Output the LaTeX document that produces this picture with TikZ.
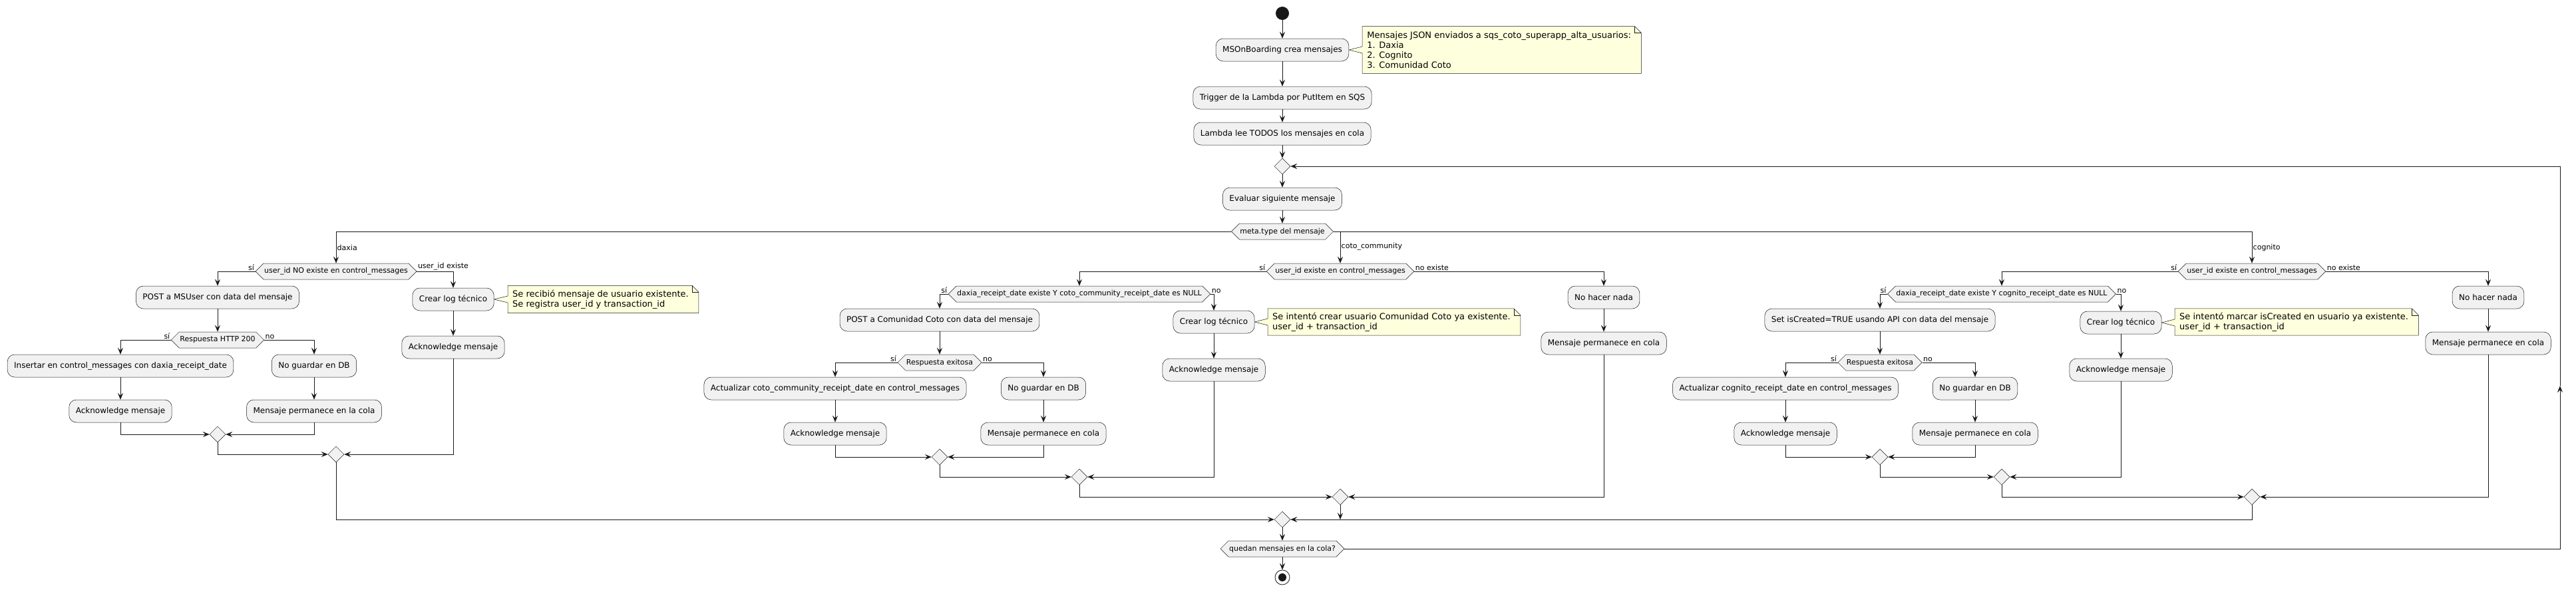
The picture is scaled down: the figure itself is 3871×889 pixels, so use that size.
\documentclass[tikz,border=0pt]{standalone}
\usepackage{fontspec}
\setmainfont{DejaVu Sans}
\usetikzlibrary{arrows.meta, shapes.geometric, shapes.symbols, calc, backgrounds}

\definecolor{actfill}{HTML}{F1F1F1}
\definecolor{lineclr}{HTML}{181818}
\definecolor{notefill}{HTML}{FEFFDD}

\tikzset{
	act/.style={rectangle, rounded corners=11pt, draw=lineclr, line width=0.5pt, fill=actfill,
		minimum height=34pt, inner xsep=10pt, font=\fontsize{12}{14}\selectfont},
	hexa/.style={signal, signal to=west and east, signal pointer angle=90, draw=lineclr,
		line width=0.5pt, fill=actfill, minimum height=24pt, inner xsep=1pt, inner ysep=2pt,
		font=\fontsize{11}{13}\selectfont},
	merge/.style={diamond, draw=lineclr, line width=0.5pt, fill=actfill, minimum width=24pt,
		minimum height=24pt, inner sep=0pt},
	notebox/.style={anchor=west, align=left, inner xsep=7pt, inner ysep=0pt,
		font=\fontsize{13}{15}\selectfont},
	noteline/.style={-, draw=lineclr, line width=0.5pt, fill=notefill},
	lbl/.style={font=\fontsize{11}{13}\selectfont, inner sep=1.5pt},
}

% outline of a note #1 with its tail towards #2
\newcommand{\drawnote}[2]{%
	\begin{pgfonlayer}{background}
		\draw[noteline] (#1.north west) -- ($(#1.north east)+(-2,0)$) -- ($(#1.north east)+(8,10)$)
			-- ($(#1.south east)+(8,0)$) -- (#1.south west) -- ($(#1.west |- #2)+(0,5)$) -- (#2)
			-- ($(#1.west |- #2)+(0,-5)$) -- cycle;
		\draw[noteline, fill=none] ($(#1.north east)+(-2,0)$) |- ($(#1.north east)+(8,10)$);
	\end{pgfonlayer}}

\begin{document}
\begin{tikzpicture}[x=1pt, y=-1pt, ->, >={Stealth[length=10pt, width=8pt, inset=4pt]},
	line width=0.9pt, draw=lineclr]
	\useasboundingbox (0,0) rectangle (3871,889);

	\node[circle, fill=lineclr, minimum size=20pt, inner sep=0pt](start) at (1927,20) {};
	\node[act](msob) at (1927,75) {MSOnBoarding crea mensajes};
	\node[notebox, minimum height=70pt](note1) at (2047,75) {Mensajes JSON enviados a sqs\_coto\_superapp\_alta\_usuarios:\\1. Daxia\\2. Cognito\\3. Comunidad Coto};
	\drawnote{note1}{msob.east}
	\node[act](trigger) at (1927,147) {Trigger de la Lambda por PutItem en SQS};
	\node[act](lambda) at (1927,201) {Lambda lee TODOS los mensajes en cola};
	\node[merge](loop) at (1927,250) {};
	\node[act](evaluar) at (1927,299) {Evaluar siguiente mensaje};
	\node[hexa](metatype) at (1927,348) {meta.type del mensaje};

	\path (start) edge (msob);
	\path (msob) edge (trigger);
	\path (trigger) edge (lambda);
	\path (lambda) edge (loop.north);
	\path (loop.south) edge (evaluar);
	\path (evaluar.south) edge (metatype.north);

	% daxia
	\node[hexa](dxcheck) at (505,408) {user\_id NO existe en control\_messages};
	\node[act](dxpost) at (327,447) {POST a MSUser con data del mensaje};
	\node[act](dxlog) at (681,450) {Crear log técnico};
	\node[notebox, minimum height=41pt](dxnote) at (763,450) {Se recibió mensaje de usuario existente.\\Se registra user\_id y transaction\_id};
	\drawnote{dxnote}{dxlog.east}
	\node[act](dxack2) at (681,522) {Acknowledge mensaje};
	\node[hexa](dxhttp) at (327,511) {Respuesta HTTP 200};
	\node[act](dxins) at (181,550) {Insertar en control\_messages con daxia\_receipt\_date};
	\node[act](dxnosave) at (472,550) {No guardar en DB};
	\node[act](dxack) at (181,618) {Acknowledge mensaje};
	\node[act](dxstay) at (472,618) {Mensaje permanece en la cola};
	\node[merge](dxm1) at (327,653) {};
	\node[merge](dxm2) at (505,683) {};

	\draw (metatype.west) -| (dxcheck.north) node[lbl, pos=0.76, anchor=west] {daxia};
	\draw (dxcheck.west) -| (dxpost.north) node[lbl, pos=0, above left] {sí};
	\draw (dxcheck.east) -| (dxlog.north) node[lbl, pos=0, above right] {user\_id existe};
	\path (dxpost.south) edge (dxhttp.north);
	\path (dxlog) edge (dxack2);
	\draw (dxhttp.west) -| (dxins.north) node[lbl, pos=0, above left] {sí};
	\draw (dxhttp.east) -| (dxnosave.north) node[lbl, pos=0, above right] {no};
	\path (dxins) edge (dxack);
	\path (dxnosave) edge (dxstay);
	\draw (dxack.south) |- (dxm1.west);
	\draw (dxstay.south) |- (dxm1.east);
	\draw (dxm1.south) |- (dxm2.west);
	\draw (dxack2.south) |- (dxm2.east);

	% coto_community
	\node[hexa](ccheck) at (2014,408) {user\_id existe en control\_messages};
	\node[hexa](cdate) at (1622,442) {daxia\_receipt\_date existe Y coto\_community\_receipt\_date es NULL};
	\node[act](cpost) at (1412,481) {POST a Comunidad Coto con data del mensaje};
	\node[hexa](cresp) at (1412,545) {Respuesta exitosa};
	\node[act](cupd) at (1255,584) {Actualizar coto\_community\_receipt\_date en control\_messages};
	\node[act](cnosave) at (1568,584) {No guardar en DB};
	\node[act](cack) at (1255,652) {Acknowledge mensaje};
	\node[act](cstay) at (1568,652) {Mensaje permanece en cola};
	\node[merge](cm1) at (1412,687) {};
	\node[act](clog) at (1824,484) {Crear log técnico};
	\node[notebox, minimum height=40pt](cnote) at (1905,484) {Se intentó crear usuario Comunidad Coto ya existente.\\user\_id + transaction\_id};
	\drawnote{cnote}{clog.east}
	\node[act](cack2) at (1824,556) {Acknowledge mensaje};
	\node[merge](cm2) at (1622,717) {};
	\node[act](cnone) at (2410,447) {No hacer nada};
	\node[act](cstay2) at (2410,516) {Mensaje permanece en cola};
	\node[merge](cm3) at (2014,747) {};

	\draw (metatype.east) -| (ccheck.north) node[lbl, pos=0.74, anchor=west] {coto\_community};
	\draw (ccheck.west) -| (cdate.north) node[lbl, pos=0, above left] {sí};
	\draw (ccheck.east) -| (cnone.north) node[lbl, pos=0, above right] {no existe};
	\draw (cdate.west) -| (cpost.north) node[lbl, pos=0, above left] {sí};
	\draw (cdate.east) -| (clog.north) node[lbl, pos=0, above right] {no};
	\path (cpost.south) edge (cresp.north);
	\draw (cresp.west) -| (cupd.north) node[lbl, pos=0, above left] {sí};
	\draw (cresp.east) -| (cnosave.north) node[lbl, pos=0, above right] {no};
	\path (cupd) edge (cack);
	\path (cnosave) edge (cstay);
	\draw (cack.south) |- (cm1.west);
	\draw (cstay.south) |- (cm1.east);
	\path (clog) edge (cack2);
	\draw (cm1.south) |- (cm2.west);
	\draw (cack2.south) |- (cm2.east);
	\path (cnone) edge (cstay2);
	\draw (cm2.south) |- (cm3.west);
	\draw (cstay2.south) |- (cm3.east);

	% cognito
	\node[hexa](gcheck) at (3384,408) {user\_id existe en control\_messages};
	\node[hexa](gdate) at (3008,442) {daxia\_receipt\_date existe Y cognito\_receipt\_date es NULL};
	\node[act](gset) at (2825,481) {Set isCreated=TRUE usando API con data del mensaje};
	\node[hexa](gresp) at (2825,545) {Respuesta exitosa};
	\node[act](gupd) at (2683,584) {Actualizar cognito\_receipt\_date en control\_messages};
	\node[act](gnosave) at (2968,584) {No guardar en DB};
	\node[act](gack) at (2683,652) {Acknowledge mensaje};
	\node[act](gstay) at (2968,652) {Mensaje permanece en cola};
	\node[merge](gm1) at (2825,687) {};
	\node[act](glog) at (3187,485) {Crear log técnico};
	\node[notebox, minimum height=40pt](gnote) at (3268,484) {Se intentó marcar isCreated en usuario ya existente.\\user\_id + transaction\_id};
	\drawnote{gnote}{glog.east}
	\node[act](gack2) at (3187,556) {Acknowledge mensaje};
	\node[merge](gm2) at (3008,717) {};
	\node[act](gnone) at (3739,447) {No hacer nada};
	\node[act](gstay2) at (3739,516) {Mensaje permanece en cola};
	\node[merge](gm3) at (3384,747) {};

	\draw (metatype.east) -| (gcheck.north) node[lbl, pos=0.76, anchor=west] {cognito};
	\draw (gcheck.west) -| (gdate.north) node[lbl, pos=0, above left] {sí};
	\draw (gcheck.east) -| (gnone.north) node[lbl, pos=0, above right] {no existe};
	\draw (gdate.west) -| (gset.north) node[lbl, pos=0, above left] {sí};
	\draw (gdate.east) -| (glog.north) node[lbl, pos=0, above right] {no};
	\path (gset.south) edge (gresp.north);
	\draw (gresp.west) -| (gupd.north) node[lbl, pos=0, above left] {sí};
	\draw (gresp.east) -| (gnosave.north) node[lbl, pos=0, above right] {no};
	\path (gupd) edge (gack);
	\path (gnosave) edge (gstay);
	\draw (gack.south) |- (gm1.west);
	\draw (gstay.south) |- (gm1.east);
	\path (glog) edge (gack2);
	\draw (gm1.south) |- (gm2.west);
	\draw (gack2.south) |- (gm2.east);
	\path (gnone) edge (gstay2);
	\draw (gm2.south) |- (gm3.west);
	\draw (gstay2.south) |- (gm3.east);

	% end of loop
	\node[merge](fmerge) at (1927,781) {};
	\node[hexa](quedan) at (1927,825) {quedan mensajes en la cola?};
	\node[circle, draw=lineclr, line width=0.8pt, fill=white, minimum size=22pt, inner sep=0pt](stop) at (1927,868) {};
	\fill[lineclr] (stop.center) circle (6pt);
	\coordinate (cdrop) at (cm3 |- fmerge);
	\coordinate (backlow) at (3847,825);
	\coordinate (backmid) at (3847,580);

	\draw (dxm2.south) |- (fmerge.west);
	\draw (gm3.south) |- (fmerge.east);
	\draw (cm3.south) -- (cdrop);
	\path (fmerge.south) edge (quedan.north);
	\path (quedan.south) edge (stop);
	\draw (quedan.east) -- (backlow) -- (backmid);
	\draw (backmid) |- (loop.east);
\end{tikzpicture}
\end{document}
